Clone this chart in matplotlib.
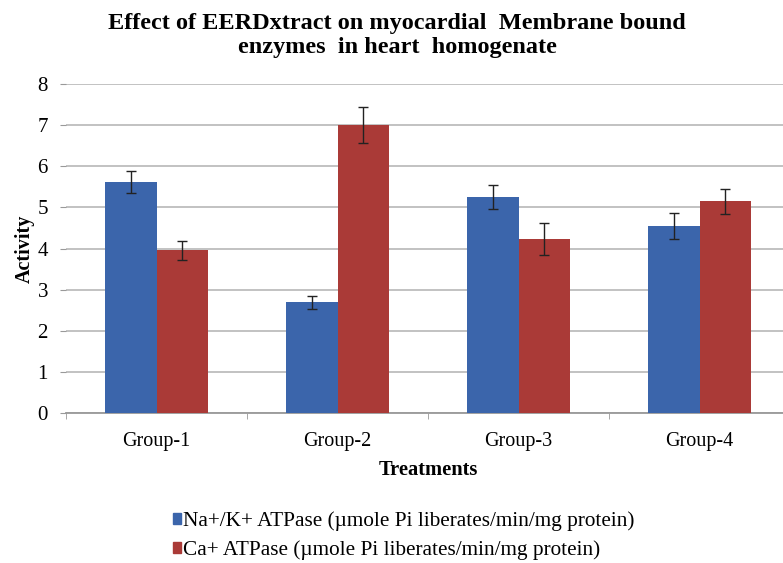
import matplotlib
matplotlib.use("Agg")
import matplotlib.pyplot as plt
import numpy as np
from matplotlib.patches import Patch

groups = ["Group-1", "Group-2", "Group-3", "Group-4"]
na_k = [5.62, 2.69, 5.25, 4.54]
na_k_err = [0.27, 0.15, 0.30, 0.32]
ca = [3.96, 7.0, 4.23, 5.15]
ca_err = [0.23, 0.44, 0.38, 0.30]
series_labels = [
    "Na+/K+ ATPase (\u00b5mole Pi liberates/min/mg protein)",
    "Ca+ ATPase (\u00b5mole Pi liberates/min/mg protein)",
]
yticks = [0, 1, 2, 3, 4, 5, 6, 7, 8]

BLUE = "#3b65ab"
RED = "#aa3a37"

plt.rcParams["font.family"] = ["Liberation Serif", "DejaVu Serif"]

fig = plt.figure(figsize=(7.83, 5.63), dpi=100)
# plot area runs slightly past the right edge like in the reference crop
ax = fig.add_axes([66 / 783, 1 - 413 / 563, 724 / 783, 329 / 563])

x = np.arange(len(groups))
w = 0.287
ax.bar(x - w / 2, na_k, w, color=BLUE, zorder=3)
ax.bar(x + w / 2, ca, w, color=RED, zorder=3)
ax.errorbar(x - w / 2, na_k, yerr=na_k_err, fmt="none", ecolor="#222222",
            elinewidth=1.0, capsize=3.5, capthick=1.0, zorder=4)
ax.errorbar(x + w / 2, ca, yerr=ca_err, fmt="none", ecolor="#222222",
            elinewidth=1.0, capsize=3.5, capthick=1.0, zorder=4)

ax.set_xlim(-0.5, len(groups) - 0.5)
ax.set_ylim(0, 8)
ax.set_yticks(yticks)
ax.yaxis.grid(True, color="#bdbdbd", linewidth=1.3, zorder=0)
ax.set_axisbelow(True)

ax.set_xticks(x)
ax.set_xticklabels(groups, fontsize=14.5)
ax.set_xticks(np.arange(len(groups) + 1) - 0.5, minor=True)
ax.tick_params(axis="x", which="major", length=0, pad=14)
ax.tick_params(axis="x", which="minor", length=4, color="#999999")
ax.tick_params(axis="y", length=4, color="#999999", labelsize=15, pad=9)

for s in ["top", "right", "left"]:
    ax.spines[s].set_visible(False)
ax.spines["bottom"].set_color("#999999")
ax.spines["bottom"].set_linewidth(1.3)

ax.set_ylabel("Activity", fontsize=14.5, fontweight="bold", labelpad=2)
ax.set_xlabel("Treatments", fontsize=14.8, fontweight="bold", labelpad=6)

fig.text(0.507, 1 - 23 / 563, "Effect of EERDxtract on myocardial  Membrane bound",
         ha="center", va="center", fontsize=17.5, fontweight="bold")
fig.text(0.507, 1 - 47 / 563, "enzymes  in heart  homogenate",
         ha="center", va="center", fontsize=17.5, fontweight="bold")

handles = [Patch(color=BLUE), Patch(color=RED)]
fig.legend(handles, series_labels, loc="upper left",
           bbox_to_anchor=(164 / 783, 1 - 503 / 563), frameon=False,
           fontsize=15.3, handlelength=0.38, handleheight=0.38,
           handletextpad=0.12, labelspacing=0.42, borderaxespad=0)

fig.savefig("out.png", dpi=100)
